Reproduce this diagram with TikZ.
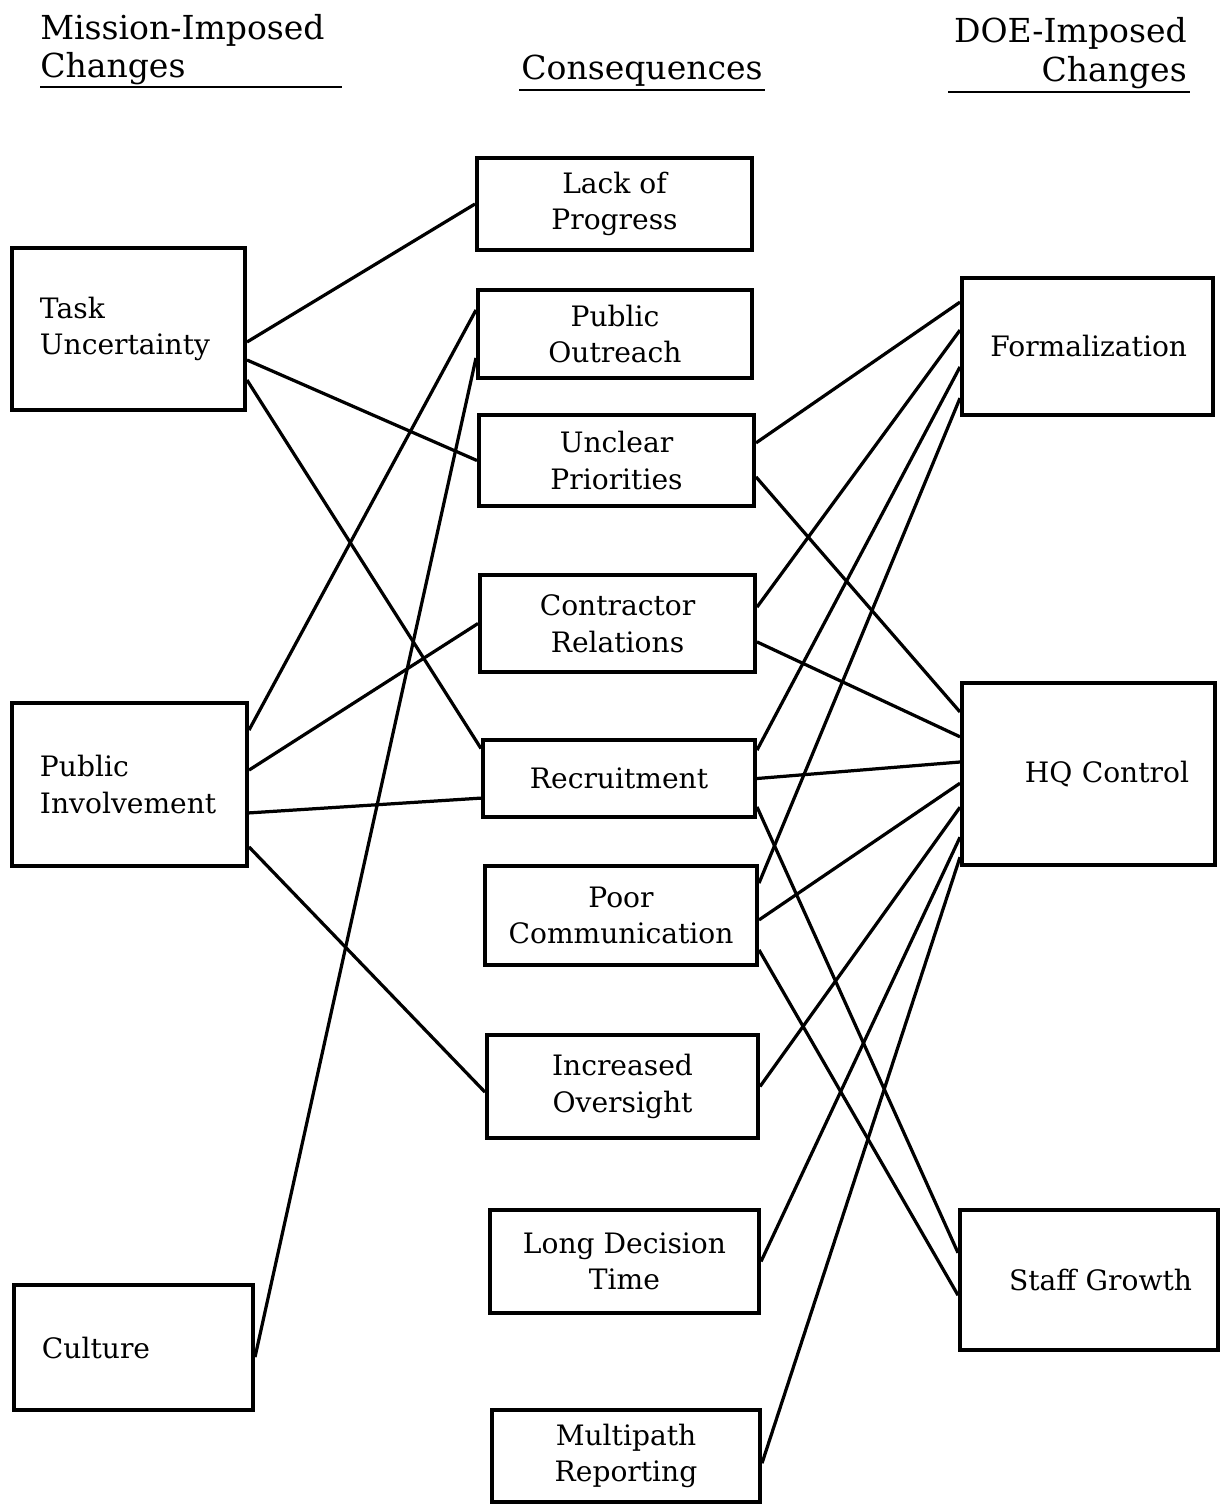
\documentclass[tikz,border=0pt]{standalone}
\usepackage{fontspec}
\setmainfont{DejaVu Serif}

\tikzset{
  box/.style={draw, line width=2.8pt, font=\fontsize{20}{26}\selectfont},
  lbox/.style={box, align=left, inner xsep=0.7cm},
  mbox/.style={box, align=center, inner sep=0pt},
  rbox/.style={box, align=right, inner xsep=0.65cm},
  head/.style={inner sep=0pt, font=\fontsize{23.5}{28}\selectfont},
  link/.style={line width=2.3pt},
  uline/.style={line width=1.6pt}
}

\begin{document}
\begin{tikzpicture}[x=0.025cm, y=-0.025cm]
    \useasboundingbox (0,0) rectangle (1220,1505);

    % column headings
    \node[head, anchor=base west] (mis) at (40,40) {Mission-Imposed};
    \node[head, anchor=base west] (chl) at (40,78) {Changes};
    \node[head, anchor=base] (cons) at (642,80) {Consequences};
    \node[head, anchor=base east] (doe) at (1187,43) {DOE-Imposed};
    \node[head, anchor=base east] (chr) at (1187,82) {Changes};
    \coordinate (ul1a) at (40,87);   \coordinate (ul1b) at (342,87);
    \coordinate (ul2a) at (519,90);  \coordinate (ul2b) at (765,90);
    \coordinate (ul3a) at (948,92);  \coordinate (ul3b) at (1190,92);
    \draw[uline] (ul1a) -- (ul1b);
    \draw[uline] (ul2a) -- (ul2b);
    \draw[uline] (ul3a) -- (ul3b);

    % mission-imposed changes
    \node[lbox, text width=4.425cm, minimum height=4.05cm] (task) at (128.5,329) {Task\\Uncertainty};
    \node[lbox, text width=4.475cm, minimum height=4.075cm] (inv) at (129.5,784.5) {Public\\Involvement};
    \node[lbox, text width=4.575cm, minimum height=3.125cm] (cult) at (133.5,1347.5) {Culture};

    % consequences
    \node[mbox, minimum width=6.875cm, minimum height=2.3cm] (lack) at (614.5,204) {Lack of\\Progress};
    \node[mbox, minimum width=6.85cm, minimum height=2.2cm] (outr) at (615,334) {Public\\Outreach};
    \node[mbox, minimum width=6.875cm, minimum height=2.275cm] (prio) at (616.5,460.5) {Unclear\\Priorities};
    \node[mbox, minimum width=6.875cm, minimum height=2.425cm] (contr) at (617.5,623.5) {Contractor\\Relations};
    \node[mbox, minimum width=6.8cm, minimum height=1.925cm] (recr) at (619,778.5) {Recruitment};
    \node[mbox, minimum width=6.8cm, minimum height=2.475cm] (comm) at (621,915.5) {Poor\\Communication};
    \node[mbox, minimum width=6.775cm, minimum height=2.575cm] (over) at (622.5,1086.5) {Increased\\Oversight};
    \node[mbox, minimum width=6.725cm, minimum height=2.575cm] (dec) at (624.5,1261.5) {Long Decision\\Time};
    \node[mbox, minimum width=6.7cm, minimum height=2.3cm] (multi) at (626,1456) {Multipath\\Reporting};

    % DOE-imposed changes
    \node[rbox, text width=4.975cm, minimum height=3.425cm] (form) at (1087.5,346.5) {Formalization};
    \node[rbox, text width=5.025cm, minimum height=4.55cm] (hq) at (1088.5,774) {HQ Control};
    \node[rbox, text width=5.15cm, minimum height=3.5cm] (staff) at (1089,1280) {Staff Growth};

    % left links
    \draw[link] ([yshift=-0.325cm]task.east) -- (lack.west);
    \draw[link] ([yshift=-0.775cm]task.east) -- (prio.west);
    \draw[link] ([yshift=-1.275cm]task.east) -- ([yshift=0.75cm]recr.west);
    \draw[link] ([yshift=1.36cm]inv.east) -- ([yshift=0.6cm]outr.west);
    \draw[link] ([yshift=0.36cm]inv.east) -- (contr.west);
    \draw[link] ([yshift=-0.71cm]inv.east) -- ([yshift=-0.49cm]recr.west);
    \draw[link] ([yshift=-1.56cm]inv.east) -- ([yshift=-0.14cm]over.west);
    \draw[link] ([yshift=-0.24cm]cult.east) -- ([yshift=-0.6cm]outr.west);

    % right links
    \draw[link] ([yshift=0.44cm]prio.east) -- ([yshift=1.11cm]form.west);
    \draw[link] ([yshift=-0.41cm]prio.east) -- ([yshift=1.55cm]hq.west);
    \draw[link] ([yshift=0.41cm]contr.east) -- ([yshift=0.41cm]form.west);
    \draw[link] ([yshift=-0.46cm]contr.east) -- ([yshift=0.93cm]hq.west);
    \draw[link] ([yshift=0.71cm]recr.east) -- ([yshift=-0.51cm]form.west);
    \draw[link] (recr.east) -- ([yshift=0.3cm]hq.west);
    \draw[link] ([yshift=-0.71cm]recr.east) -- ([yshift=0.68cm]staff.west);
    \draw[link] ([yshift=0.81cm]comm.east) -- ([yshift=-1.29cm]form.west);
    \draw[link] ([yshift=-0.11cm]comm.east) -- ([yshift=-0.23cm]hq.west);
    \draw[link] ([yshift=-0.86cm]comm.east) -- ([yshift=-0.38cm]staff.west);
    \draw[link] (over.east) -- ([yshift=-0.83cm]hq.west);
    \draw[link] (dec.east) -- ([yshift=-1.58cm]hq.west);
    \draw[link] ([yshift=-0.18cm]multi.east) -- ([yshift=-2.08cm]hq.west);
  \end{tikzpicture}
\end{document}
